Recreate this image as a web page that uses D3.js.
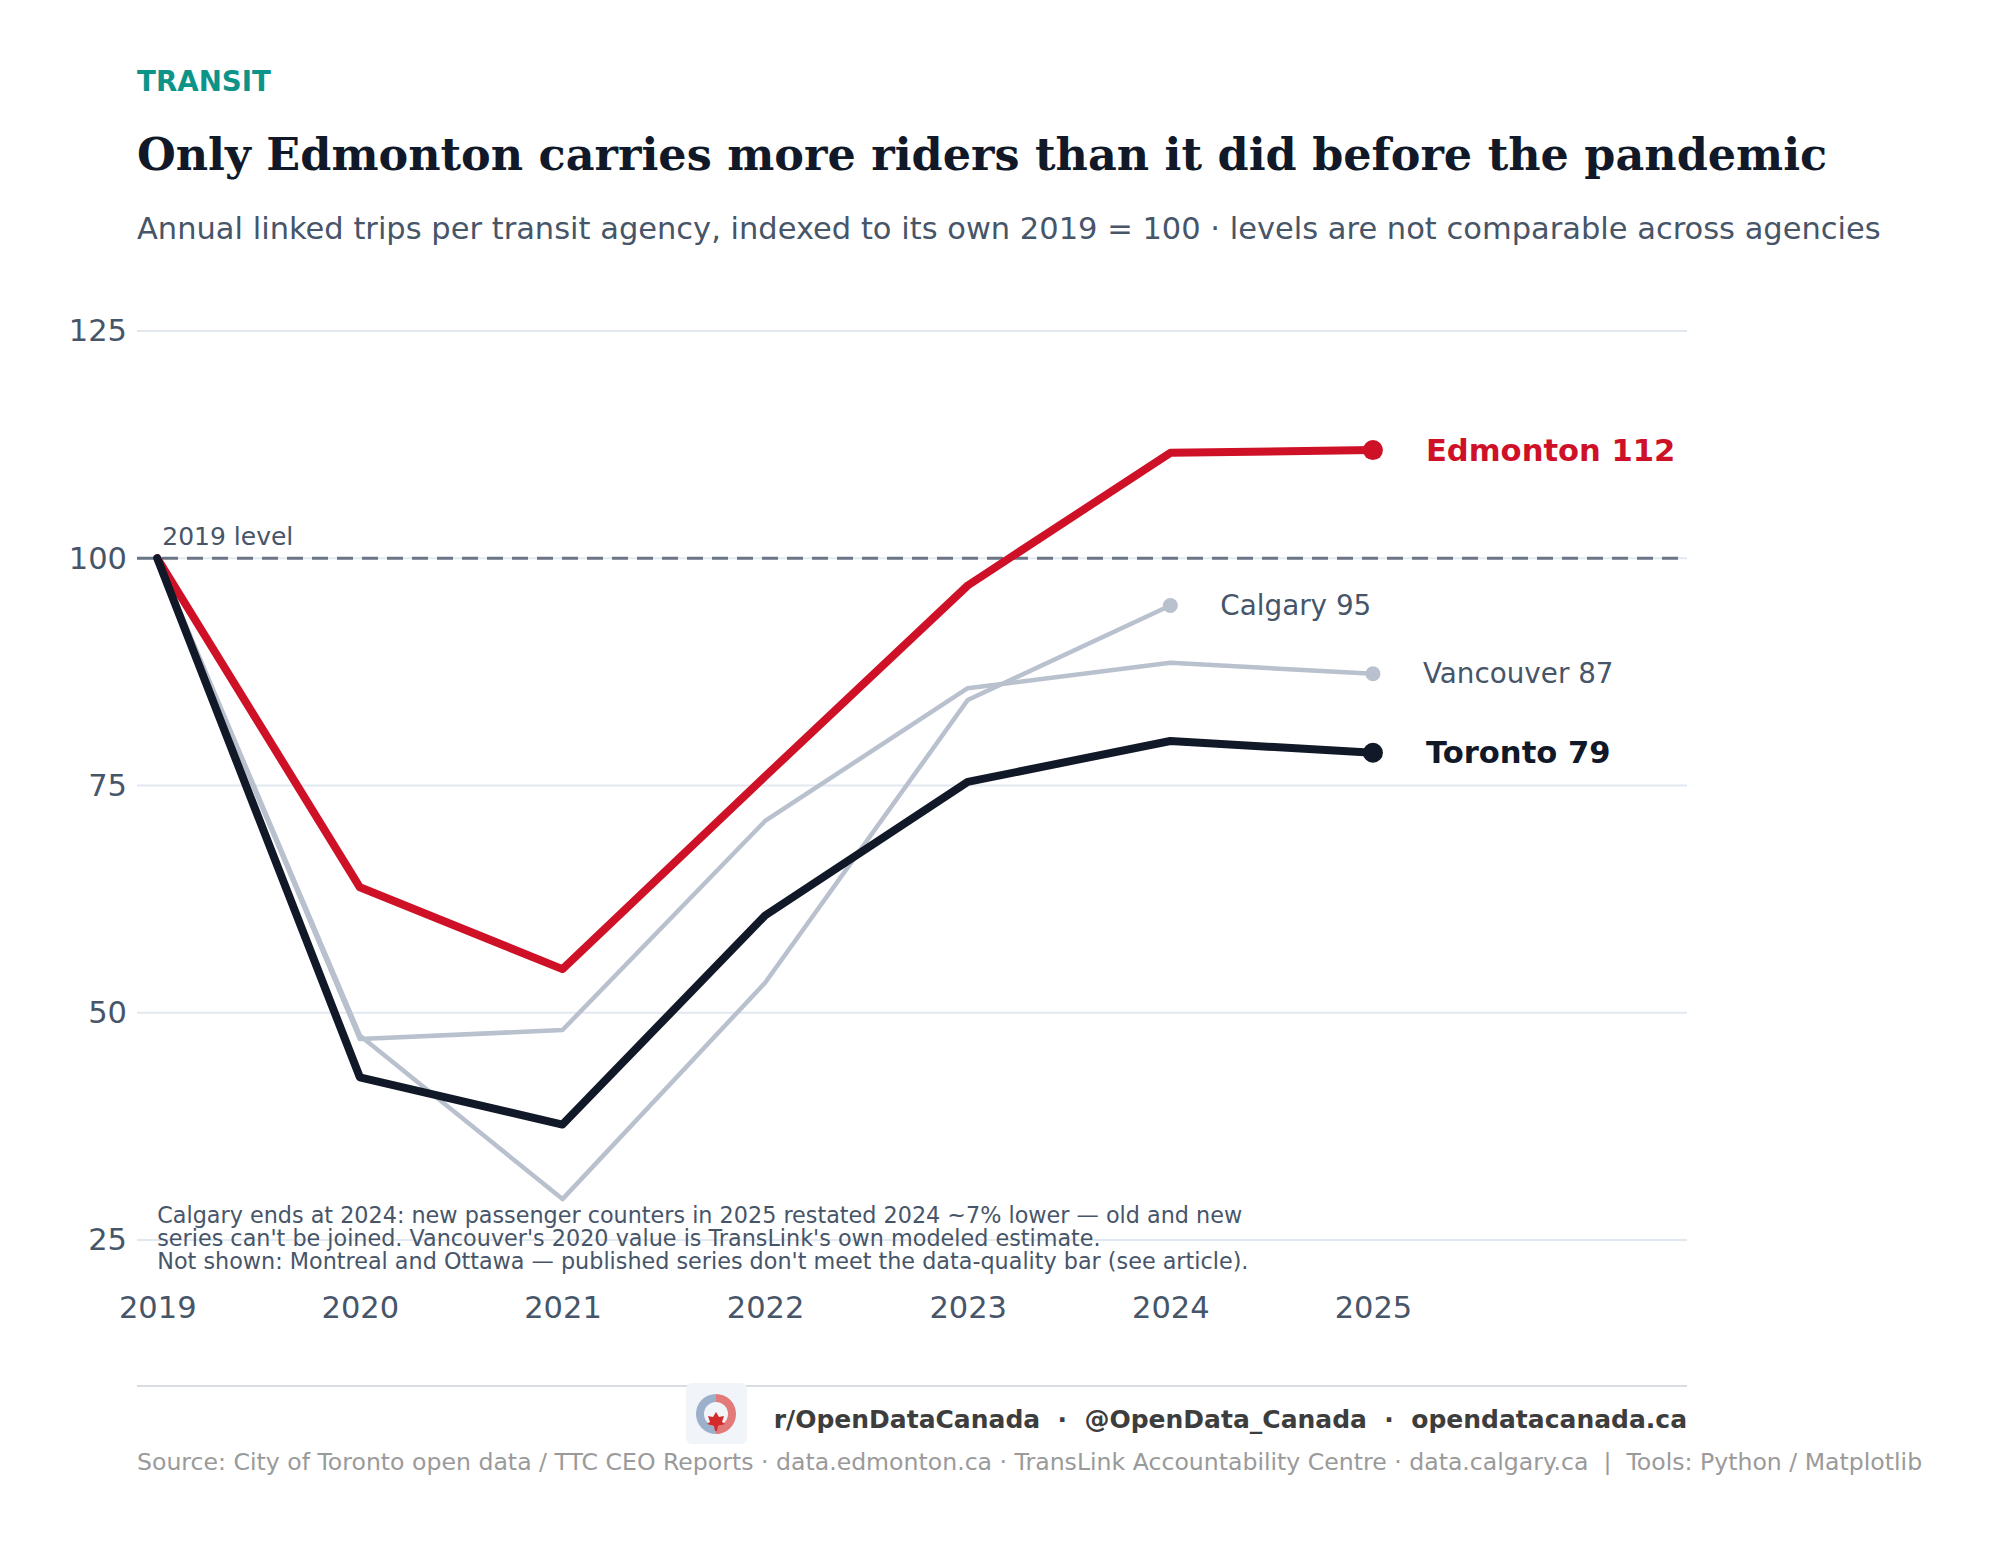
<!DOCTYPE html>
<html>
<head>
<meta charset="utf-8">
<script src="https://cdn.jsdelivr.net/npm/d3@7"></script>
<style>
  html, body { margin: 0; padding: 0; background: #ffffff; }
  svg { display: block; }
</style>
</head>
<body>
<svg id="chart" width="1995" height="1548" font-family="'DejaVu Sans', sans-serif"></svg>
<script>
// Index values, 2019 = 100
const years = [2019, 2020, 2021, 2022, 2023, 2024, 2025];
const torontoIndex = [100, 42.9, 37.7, 60.7, 75.4, 79.9, 78.6];
const edmontonIndex = [100, 63.8, 54.8, 76.0, 97.0, 111.6, 111.9];
const vancouverIndex = [100, 47.1, 48.1, 71.1, 85.7, 88.5, 87.3];
const calgaryIndex = [100, 47.5, 29.5, 53.3, 84.4, 94.8, null];
const yTicks = [25, 50, 75, 100, 125];

const footnoteLines = [
  "Calgary ends at 2024: new passenger counters in 2025 restated 2024 ~7% lower \u2014 old and new",
  "series can't be joined. Vancouver's 2020 value is TransLink's own modeled estimate.",
  "Not shown: Montreal and Ottawa \u2014 published series don't meet the data-quality bar (see article)."
];

const RED = "#cf1127";
const NAVY = "#111827";
const GREY = "#b8c1cd";
const SLATE = "#475569";

// draw order: grey context lines first, then Edmonton, Toronto on top
const series = [
  { name: "Vancouver", values: vancouverIndex, color: GREY, width: 4.5, r: 7.5, bold: false },
  { name: "Calgary", values: calgaryIndex, color: GREY, width: 4.5, r: 7.5, bold: false },
  { name: "Edmonton", values: edmontonIndex, color: RED, width: 8, r: 10, bold: true },
  { name: "Toronto", values: torontoIndex, color: NAVY, width: 8, r: 10, bold: true }
];

const svg = d3.select("#chart");

const x = d3.scaleLinear()
  .domain([2018.9, 2026.55])
  .range([137, 1687]);

const y = d3.scaleLinear()
  .domain([25, 125])
  .range([1240, 331]);

// Header
svg.append("text")
  .attr("x", 137)
  .attr("y", 91)
  .attr("fill", "#0d9488")
  .attr("font-size", 27.7)
  .attr("font-weight", "bold")
  .text("TRANSIT");

svg.append("text")
  .attr("x", 137)
  .attr("y", 170)
  .attr("fill", "#111827")
  .attr("font-family", "'DejaVu Serif', serif")
  .attr("font-size", 44.5)
  .attr("font-weight", "bold")
  .text("Only Edmonton carries more riders than it did before the pandemic");

svg.append("text")
  .attr("x", 137)
  .attr("y", 239)
  .attr("fill", SLATE)
  .attr("font-size", 30.5)
  .text("Annual linked trips per transit agency, indexed to its own 2019 = 100 \u00b7 levels are not comparable across agencies");

// Gridlines
svg.append("g")
  .selectAll("line")
  .data(yTicks)
  .join("line")
  .attr("x1", x.range()[0])
  .attr("x2", x.range()[1])
  .attr("y1", d => y(d))
  .attr("y2", d => y(d))
  .attr("stroke", "#e2e8f0")
  .attr("stroke-width", 2);

// Y axis labels
const yAxis = svg.append("g")
  .attr("class", "axis y-axis")
  .attr("transform", `translate(${x.range()[0]},0)`)
  .call(d3.axisLeft(y).tickValues(yTicks).tickSize(0).tickPadding(10));
yAxis.select(".domain").remove();
yAxis.selectAll("text")
  .attr("fill", SLATE)
  .attr("font-size", 30.5)
  .attr("font-family", "'DejaVu Sans', sans-serif");

// X axis labels
const xAxis = svg.append("g")
  .attr("class", "axis x-axis")
  .attr("transform", "translate(0,1288)")
  .call(d3.axisBottom(x).tickValues(years).tickFormat(d3.format("d")).tickSize(0).tickPadding(8));
xAxis.select(".domain").remove();
xAxis.selectAll("text")
  .attr("fill", SLATE)
  .attr("font-size", 30.5)
  .attr("font-family", "'DejaVu Sans', sans-serif");

// 2019 reference line
svg.append("line")
  .attr("x1", x.range()[0])
  .attr("x2", x.range()[1])
  .attr("y1", y(100))
  .attr("y2", y(100))
  .attr("stroke", "#6b7587")
  .attr("stroke-width", 2.8)
  .attr("stroke-dasharray", "16,9");

svg.append("text")
  .attr("x", x(2019) + 5)
  .attr("y", y(100) - 13)
  .attr("fill", SLATE)
  .attr("font-size", 25)
  .text("2019 level");

// Series lines
const line = d3.line()
  .defined(d => d.value != null)
  .x(d => x(d.year))
  .y(d => y(d.value));

series.forEach(s => {
  const pts = years.map((yr, i) => ({ year: yr, value: s.values[i] }));
  const last = pts.filter(d => d.value != null).pop();

  svg.append("path")
    .datum(pts)
    .attr("fill", "none")
    .attr("stroke", s.color)
    .attr("stroke-width", s.width)
    .attr("stroke-linejoin", "round")
    .attr("stroke-linecap", "round")
    .attr("d", line);

  svg.append("circle")
    .attr("cx", x(last.year))
    .attr("cy", y(last.value))
    .attr("r", s.r)
    .attr("fill", s.color);

  svg.append("text")
    .attr("x", x(last.year) + (s.bold ? 53 : 50))
    .attr("y", y(last.value))
    .attr("dy", "0.35em")
    .attr("fill", s.bold ? s.color : SLATE)
    .attr("font-size", s.bold ? 30.6 : 27.8)
    .attr("font-weight", s.bold ? "bold" : "normal")
    .text(`${s.name} ${Math.round(last.value)}`);
});

// Footnote inside the plot
svg.append("text")
  .attr("fill", SLATE)
  .attr("font-size", 22.3)
  .selectAll("tspan")
  .data(footnoteLines)
  .join("tspan")
  .attr("x", x(2019))
  .attr("y", (d, i) => 1223 + i * 22.9)
  .text(d => d);

// Footer
svg.append("line")
  .attr("x1", 137)
  .attr("x2", 1687)
  .attr("y1", 1386)
  .attr("y2", 1386)
  .attr("stroke", "#d9dde3")
  .attr("stroke-width", 2);

const logo = svg.append("g").attr("transform", "translate(686,1383)");
logo.append("rect")
  .attr("width", 61)
  .attr("height", 61)
  .attr("rx", 6)
  .attr("fill", "#f1f4f8");
const arc = d3.arc().innerRadius(12).outerRadius(20);
logo.append("path")
  .attr("transform", "translate(30,31)")
  .attr("d", arc({ startAngle: Math.PI, endAngle: 2 * Math.PI }))
  .attr("fill", "#9bb0cb");
logo.append("path")
  .attr("transform", "translate(30,31)")
  .attr("d", arc({ startAngle: 0, endAngle: Math.PI }))
  .attr("fill", "#e27a7a");
logo.append("path")
  .attr("transform", "translate(30,38)")
  .attr("d", "M0,-9 L3,-4 L8,-5 L6,1 L9,3 L2,5 L1,10 L-1,10 L-2,5 L-9,3 L-6,1 L-8,-5 L-3,-4 Z")
  .attr("fill", "#d42a2a");

svg.append("text")
  .attr("x", 1687)
  .attr("y", 1428)
  .attr("text-anchor", "end")
  .attr("fill", "#3d3d3d")
  .attr("font-size", 25)
  .attr("font-weight", "bold")
  .style("white-space", "pre")
  .text("r/OpenDataCanada  \u00b7  @OpenData_Canada  \u00b7  opendatacanada.ca");

svg.append("text")
  .attr("x", 137)
  .attr("y", 1470)
  .attr("fill", "#9a9a9a")
  .attr("font-size", 23.6)
  .style("white-space", "pre")
  .text("Source: City of Toronto open data / TTC CEO Reports \u00b7 data.edmonton.ca \u00b7 TransLink Accountability Centre \u00b7 data.calgary.ca  |  Tools: Python / Matplotlib");
</script>
</body>
</html>
